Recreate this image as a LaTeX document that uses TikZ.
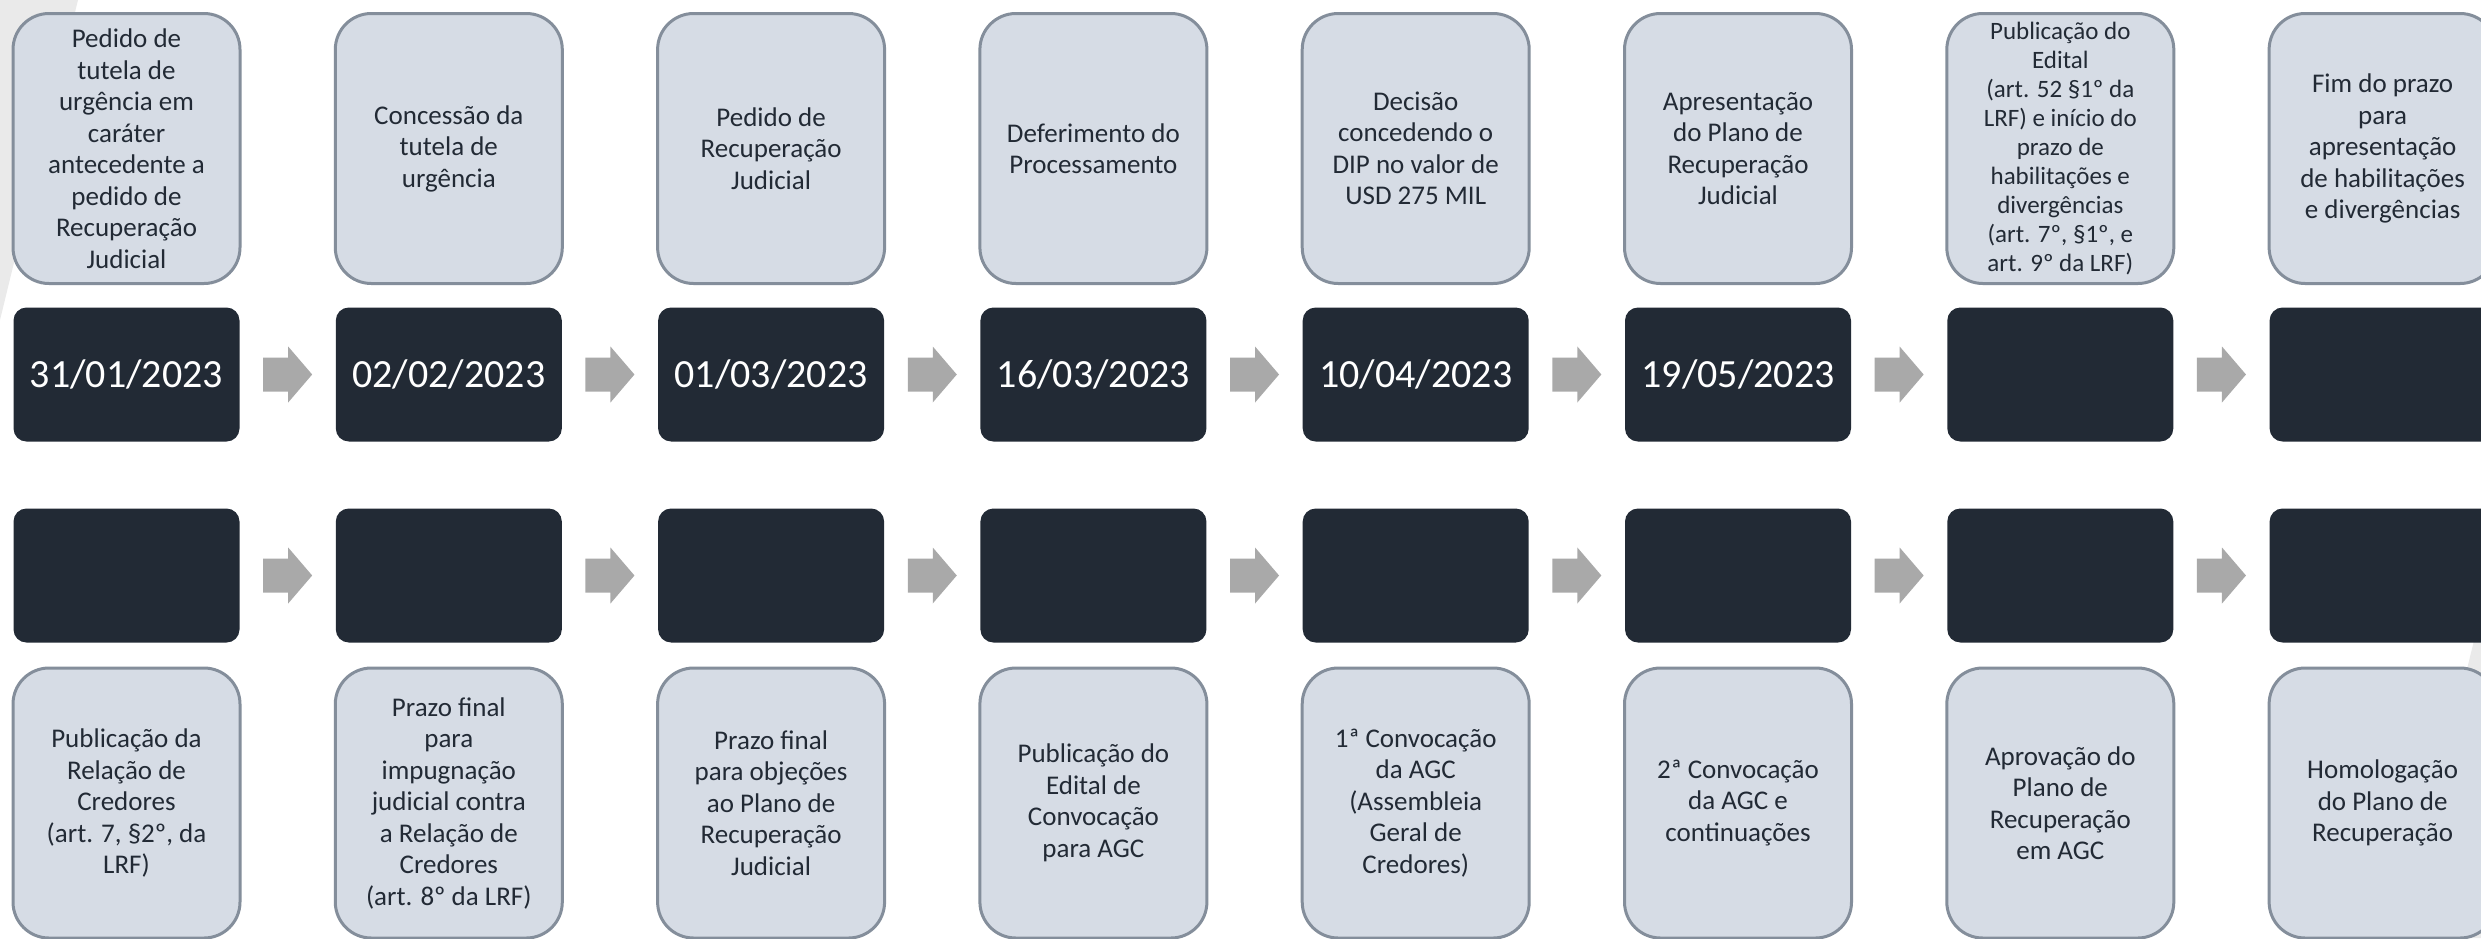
\documentclass[tikz,border=0pt]{standalone}
\usepackage{fontspec}
\setmainfont{Carlito}
\usetikzlibrary{calc}
\definecolor{lightfill}{HTML}{D6DCE5}
\definecolor{lightborder}{HTML}{848E9B}
\definecolor{darkfill}{HTML}{222A35}
\definecolor{arrowgrey}{HTML}{A9A9A9}
\definecolor{wedgegrey}{HTML}{EAEAEA}
\definecolor{txtcol}{HTML}{222A35}
\begin{document}
\begin{tikzpicture}[x=1pt,y=-1pt,
  lightbox/.style={draw=lightborder, line width=3pt, fill=lightfill, rounded corners=36pt,
    minimum width=227pt, minimum height=270pt, inner sep=0pt, align=center, text=txtcol,
    font=\fontsize{27}{31.5}\selectfont},
  smalltext/.style={font=\fontsize{25}{29}\selectfont},
  darkbox/.style={fill=darkfill, rounded corners=13pt, minimum width=226pt, minimum height=134pt,
    inner sep=0pt, text=white, font=\fontsize{40}{48}\selectfont},
  blockarrow/.style={fill=arrowgrey}]
\useasboundingbox (0,0) rectangle (2481,938);
\clip (0,0) rectangle (2481,938);
\fill[white] (0,0) rectangle (2481,938);
% background wedges
\fill[wedgegrey] (0,0) -- (78,0) -- (0,320) -- cycle;
\fill[wedgegrey] (2481,612) -- (2481,938) -- (2401,938) -- cycle;
% top light boxes
\node[lightbox] (t1) at (126.5,148.5) {Pedido de\\tutela de\\urgência em\\caráter\\antecedente a\\pedido de\\Recuperação\\Judicial};
\node[lightbox] (t2) at (448.8,148.5) {Concessão da\\tutela de\\urgência};
\node[lightbox] (t3) at (771.1,148.5) {Pedido de\\Recuperação\\Judicial};
\node[lightbox] (t4) at (1093.4,148.5) {Deferimento do\\Processamento};
\node[lightbox] (t5) at (1415.7,148.5) {Decisão\\concedendo o\\DIP no valor de\\USD 275 MIL};
\node[lightbox] (t6) at (1738.0,148.5) {Apresentação\\do Plano de\\Recuperação\\Judicial};
\node[lightbox,smalltext] (t7) at (2060.3,148.5) {Publicação do\\Edital\\(art. 52 §1º da\\LRF) e início do\\prazo de\\habilitações e\\divergências\\(art. 7º, §1º, e\\art. 9º da LRF)};
\node[lightbox] (t8) at (2382.6,148.5) {Fim do prazo\\para\\apresentação\\de habilitações\\e divergências};
% top dark boxes
\node[darkbox] (d1) at (126.5,374.5) {31/01/2023};
\node[darkbox] (d2) at (448.8,374.5) {02/02/2023};
\node[darkbox] (d3) at (771.1,374.5) {01/03/2023};
\node[darkbox] (d4) at (1093.4,374.5) {16/03/2023};
\node[darkbox] (d5) at (1415.7,374.5) {10/04/2023};
\node[darkbox] (d6) at (1738.0,374.5) {19/05/2023};
\node[darkbox] (d7) at (2060.3,374.5) {};
\node[darkbox] (d8) at (2382.6,374.5) {};
% bottom dark boxes
\node[darkbox] (e1) at (126.5,575.5) {};
\node[darkbox] (e2) at (448.8,575.5) {};
\node[darkbox] (e3) at (771.1,575.5) {};
\node[darkbox] (e4) at (1093.4,575.5) {};
\node[darkbox] (e5) at (1415.7,575.5) {};
\node[darkbox] (e6) at (1738.0,575.5) {};
\node[darkbox] (e7) at (2060.3,575.5) {};
\node[darkbox] (e8) at (2382.6,575.5) {};
% bottom light boxes
\node[lightbox] (b1) at (126.5,803) {Publicação da\\Relação de\\Credores\\(art. 7, §2º, da\\LRF)};
\node[lightbox] (b2) at (448.8,803) {Prazo final\\para\\impugnação\\judicial contra\\a Relação de\\Credores\\(art. 8º da LRF)};
\node[lightbox] (b3) at (771.1,803) {Prazo final\\para objeções\\ao Plano de\\Recuperação\\Judicial};
\node[lightbox] (b4) at (1093.4,803) {Publicação do\\Edital de\\Convocação\\para AGC};
\node[lightbox] (b5) at (1415.7,803) {1ª Convocação\\da AGC\\(Assembleia\\Geral de\\Credores)};
\node[lightbox] (b6) at (1738.0,803) {2ª Convocação\\da AGC e\\continuações};
\node[lightbox] (b7) at (2060.3,803) {Aprovação do\\Plano de\\Recuperação\\em AGC};
\node[lightbox] (b8) at (2382.6,803) {Homologação\\do Plano de\\Recuperação};
% block arrows between dark boxes
\foreach \i [evaluate=\i as \j using int(\i+1)] in {1,...,7} {
  \path (d\i.east) -- (d\j.west) coordinate[midway] (ta\i);
  \path (e\i.east) -- (e\j.west) coordinate[midway] (ba\i);
  \foreach \m in {ta\i,ba\i} {
    \fill[blockarrow,shift={(\m)}] (-24.5,-17) -- (0.5,-17) -- (0.5,-28) -- (24.5,0)
      -- (0.5,28) -- (0.5,17) -- (-24.5,17) -- cycle;
  }
}
\end{tikzpicture}
\end{document}
